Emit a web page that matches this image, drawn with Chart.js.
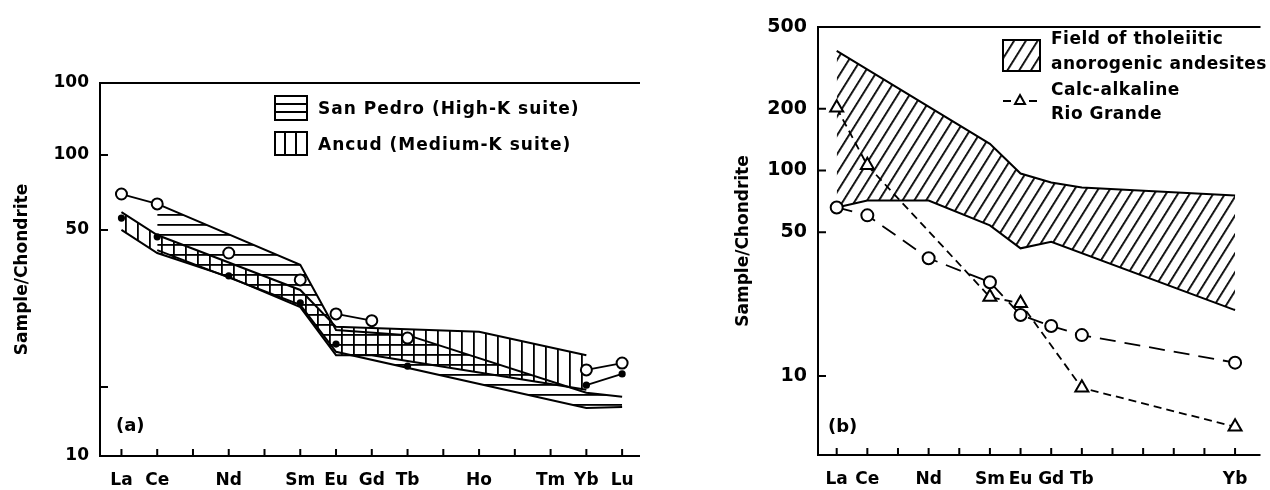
<!DOCTYPE html>
<html>
<head>
<meta charset="utf-8">
<script src="https://cdn.jsdelivr.net/npm/chart.js@4/dist/chart.umd.min.js"></script>
<style>
  body { margin: 0; background: #fff; width: 1270px; height: 490px; overflow: hidden; position: relative; }
  canvas { position: absolute; top: 0; }
  #chart-a { left: 0; }
  #chart-b { left: 680px; }
</style>
</head>
<body>
<canvas id="chart-a" width="660" height="490"></canvas>
<canvas id="chart-b" width="590" height="490"></canvas>
<script>
const FONT = "'DejaVu Sans', sans-serif";

// --- REE axis ---
const ree = ["La","Ce","Pr","Nd","Pm","Sm","Eu","Gd","Tb","Dy","Ho","Er","Tm","Yb","Lu"];
const labelsA = ["La","Ce","","Nd","","Sm","Eu","Gd","Tb","","Ho","","Tm","Yb","Lu"];
const labelsB = ["La","Ce","","Nd","","Sm","Eu","Gd","Tb","","","","","Yb"];

// --- y ticks (labels as printed) ---
const yTicksA = [6.18, 11.7, 50, 100, 194.6];
const yTickLabelsA = ["10", "", "50", "100", "100"];
const yTicksB = [4.12, 10, 50, 100, 200, 500];
const yTickLabelsB = ["", "10", "50", "100", "200", "500"];

// --- (a) samples ---
const openElA = ["La","Ce","Nd","Sm","Eu","Gd","Tb","Yb","Lu"];
const openValA = [69.7, 63.6, 40.4, 31.5, 23.0, 21.6, 18.4, 13.7, 14.6];
const dotElA = ["La","Ce","Nd","Sm","Eu","Tb","Yb","Lu"];
const dotValA = [55.8, 46.9, 32.7, 25.5, 17.4, 14.2, 11.9, 13.2];

// --- (a) San Pedro field (High-K) ---
const spTopEl = ["Ce","Sm","Eu","Tb","Yb","Lu"];
const spTopVal = [63.6, 36.2, 19.8, 18.9, 11.1, 10.7];
const spLowEl = ["Ce","Sm","Eu","Yb","Lu"];
const spLowVal = [41.5, 25.0, 16.2, 9.64, 9.73];

// --- (a) Ancud field (Medium-K) ---
const anTopEl = ["La","Ce","Sm","Eu","Ho","Yb"];
const anTopVal = [59.0, 47.7, 28.7, 20.4, 19.5, 15.7];
const anLowEl = ["La","Ce","Nd","Sm","Eu","Gd","Yb"];
const anLowVal = [50.0, 40.4, 32.4, 24.5, 15.7, 15.7, 11.4];

// --- (b) samples ---
const openElB = ["La","Ce","Nd","Sm","Eu","Gd","Tb","Yb"];
const openValB = [66.1, 60.5, 37.4, 28.6, 19.8, 17.5, 15.8, 11.6];
const triElB = ["La","Ce","Sm","Eu","Tb","Yb"];
const triValB = [202, 106, 24.2, 22.6, 8.75, 5.65];

// --- (b) tholeiitic field ---
const thTopEl = ["La","Sm","Eu","Gd","Tb","Yb"];
const thTopVal = [383, 135, 96.7, 87.4, 82.7, 75.6];
const thLowEl = ["La","Ce","Nd","Sm","Eu","Gd","Yb"];
const thLowVal = [66.1, 71.5, 71.5, 54.1, 41.8, 45.0, 20.9];

// which segments of the sample lines are drawn (index of first point)
const openLinksA = [0, 4, 7];
const dotLinksA = [6];

function pts(els, vals) {
  return els.map((e, i) => ({ x: ree.indexOf(e), y: vals[i] }));
}

// --- hatch patterns ---
function hatch(kind) {
  const c = document.createElement("canvas");
  const g = c.getContext("2d");
  g.fillStyle = "#000";
  if (kind === "h") { c.width = 10; c.height = 10; g.fillRect(0, 4, 10, 1.8); }
  else if (kind === "v") { c.width = 12; c.height = 12; g.fillRect(5, 0, 1.8, 12); }
  else { c.width = 10; c.height = 10; g.fillRect(4, 0, 1.8, 10); }
  const p = g.createPattern(c, "repeat");
  if (kind === "d") p.setTransform(new DOMMatrix().rotateSelf(32));
  return p;
}
const hatchH = hatch("h");
const hatchV = hatch("v");
const hatchD = hatch("d");

function linkColor(list) {
  return ctx => list.includes(ctx.p0DataIndex) ? "#000" : "rgba(0,0,0,0)";
}

// --- frame + inward ticks ---
const frame = {
  id: "frame",
  afterDraw(chart) {
    const { ctx, chartArea: a, scales: { x, y } } = chart;
    ctx.save();
    ctx.strokeStyle = "#000";
    ctx.lineWidth = 2;
    ctx.beginPath();
    ctx.moveTo(a.right, a.top); ctx.lineTo(a.left, a.top);
    ctx.lineTo(a.left, a.bottom); ctx.lineTo(a.right, a.bottom);
    x.ticks.forEach(t => {
      const px = x.getPixelForValue(t.value);
      ctx.moveTo(px, a.bottom); ctx.lineTo(px, a.bottom - 7);
    });
    y.ticks.forEach(t => {
      const py = y.getPixelForValue(t.value);
      ctx.moveTo(a.left, py); ctx.lineTo(a.left + 8, py);
    });
    ctx.stroke();
    ctx.restore();
  }
};

// --- legend + panel letter (a) ---
const legendA = {
  id: "legendA",
  afterDraw(chart) {
    const ctx = chart.ctx;
    ctx.save();
    ctx.strokeStyle = "#000";
    ctx.lineWidth = 2;
    ctx.strokeRect(275, 96, 32, 24);
    ctx.beginPath();
    ctx.moveTo(275, 104); ctx.lineTo(307, 104);
    ctx.moveTo(275, 112); ctx.lineTo(307, 112);
    ctx.stroke();
    ctx.strokeRect(275, 132, 32, 23);
    ctx.beginPath();
    ctx.moveTo(285, 132); ctx.lineTo(285, 155);
    ctx.moveTo(296, 132); ctx.lineTo(296, 155);
    ctx.stroke();
    ctx.fillStyle = "#000";
    ctx.textBaseline = "middle";
    ctx.font = "bold 17px " + FONT;
    ctx.letterSpacing = "1px";
    ctx.fillText("San Pedro (High-K suite)", 318, 110);
    ctx.fillText("Ancud (Medium-K suite)", 318, 146);
    ctx.letterSpacing = "0px";
    ctx.font = "bold 18px " + FONT;
    ctx.fillText("(a)", 116, 426);
    ctx.restore();
  }
};

// --- legend + panel letter (b) ---
const legendB = {
  id: "legendB",
  afterDraw(chart) {
    const ctx = chart.ctx;
    ctx.save();
    ctx.fillStyle = hatchD;
    ctx.fillRect(323, 40, 37, 31);
    ctx.strokeStyle = "#000";
    ctx.lineWidth = 2;
    ctx.strokeRect(323, 40, 37, 31);
    ctx.beginPath();
    ctx.moveTo(323, 101); ctx.lineTo(331, 101);
    ctx.moveTo(349, 101); ctx.lineTo(357, 101);
    ctx.moveTo(340, 95); ctx.lineTo(345, 104); ctx.lineTo(335, 104); ctx.closePath();
    ctx.stroke();
    ctx.fillStyle = "#000";
    ctx.textBaseline = "middle";
    ctx.font = "bold 17px " + FONT;
    ctx.letterSpacing = "0.5px";
    ctx.fillText("Field of tholeiitic", 371, 40);
    ctx.fillText("anorogenic andesites", 371, 65);
    ctx.fillText("Calc-alkaline", 371, 91);
    ctx.fillText("Rio Grande", 371, 115);
    ctx.letterSpacing = "0px";
    ctx.font = "bold 18px " + FONT;
    ctx.fillText("(b)", 148, 427);
    ctx.restore();
  }
};

function xScale(min, max, labels, height) {
  return {
    type: "linear", min: min, max: max,
    grid: { display: false, drawTicks: false }, border: { display: false },
    afterBuildTicks: s => { s.ticks = labels.map((_, i) => ({ value: i })); },
    afterFit: s => { s.height = height; },
    ticks: {
      autoSkip: false, maxRotation: 0, padding: 14, color: "#000",
      font: { family: FONT, size: 17, weight: "bold" },
      callback: v => labels[v]
    }
  };
}

function yScale(vals, labels, width, titlePad, size) {
  return {
    type: "logarithmic", min: vals[0], max: vals[vals.length - 1],
    grid: { display: false, drawTicks: false }, border: { display: false },
    afterBuildTicks: s => { s.ticks = vals.map(v => ({ value: v })); },
    afterFit: s => { s.width = width; },
    ticks: {
      autoSkip: false, padding: 11, color: "#000",
      font: { family: FONT, size: size, weight: "bold" },
      callback: (v, i) => labels[i]
    },
    title: {
      display: true, text: "Sample/Chondrite", color: "#000",
      font: { family: FONT, size: 17, weight: "bold" },
      padding: { top: titlePad, bottom: 0 }
    }
  };
}

const common = {
  responsive: false,
  devicePixelRatio: 1,
  animation: false,
  plugins: { legend: { display: false }, tooltip: { enabled: false } },
  elements: { line: { tension: 0 } }
};

// --- Chart (a) ---
new Chart(document.getElementById("chart-a"), {
  type: "line",
  data: {
    datasets: [
      { data: pts(openElA, openValA), borderColor: "#000", borderWidth: 1.8, fill: false,
        pointRadius: 5.5, pointBorderWidth: 2, pointBackgroundColor: "#fff", pointBorderColor: "#000",
        segment: { borderColor: linkColor(openLinksA) } },
      { data: pts(dotElA, dotValA), borderColor: "#000", borderWidth: 1.8, fill: false,
        pointRadius: 3.6, pointBorderWidth: 0, pointBackgroundColor: "#000",
        segment: { borderColor: linkColor(dotLinksA) } },
      { data: pts(spTopEl, spTopVal), borderColor: "#000", borderWidth: 2, pointRadius: 0,
        fill: 3, backgroundColor: hatchH },
      { data: pts(spLowEl, spLowVal), borderColor: "#000", borderWidth: 2, pointRadius: 0, fill: false },
      { data: pts(anTopEl, anTopVal), borderColor: "#000", borderWidth: 2, pointRadius: 0,
        fill: 5, backgroundColor: hatchV },
      { data: pts(anLowEl, anLowVal), borderColor: "#000", borderWidth: 2, pointRadius: 0, fill: false }
    ]
  },
  options: {
    ...common,
    layout: { padding: { top: 83, right: 20, left: 0, bottom: 0 } },
    scales: {
      x: xScale(-0.6, 14.5, labelsA, 34),
      y: yScale(yTicksA, yTickLabelsA, 100, 12, 17)
    }
  },
  plugins: [frame, legendA]
});

// --- Chart (b) ---
new Chart(document.getElementById("chart-b"), {
  type: "line",
  data: {
    datasets: [
      { data: pts(openElB, openValB), borderColor: "#000", borderWidth: 1.8, borderDash: [16, 9], fill: false,
        pointRadius: 6, pointBorderWidth: 2, pointBackgroundColor: "#fff", pointBorderColor: "#000" },
      { data: pts(triElB, triValB), borderColor: "#000", borderWidth: 1.8, borderDash: [8, 5], fill: false,
        pointStyle: "triangle", pointRadius: 7.5, pointBorderWidth: 2, pointBackgroundColor: "#fff", pointBorderColor: "#000" },
      { data: pts(thTopEl, thTopVal), borderColor: "#000", borderWidth: 2, pointRadius: 0,
        fill: 3, backgroundColor: hatchD },
      { data: pts(thLowEl, thLowVal), borderColor: "#000", borderWidth: 2, pointRadius: 0, fill: false }
    ]
  },
  options: {
    ...common,
    layout: { padding: { top: 27, right: 2, left: 0, bottom: 0 } },
    scales: {
      x: xScale(-0.61, 13.83, labelsB, 35),
      y: yScale(yTicksB, yTickLabelsB, 138, 53, 19)
    }
  },
  plugins: [frame, legendB]
});
</script>
</body>
</html>
